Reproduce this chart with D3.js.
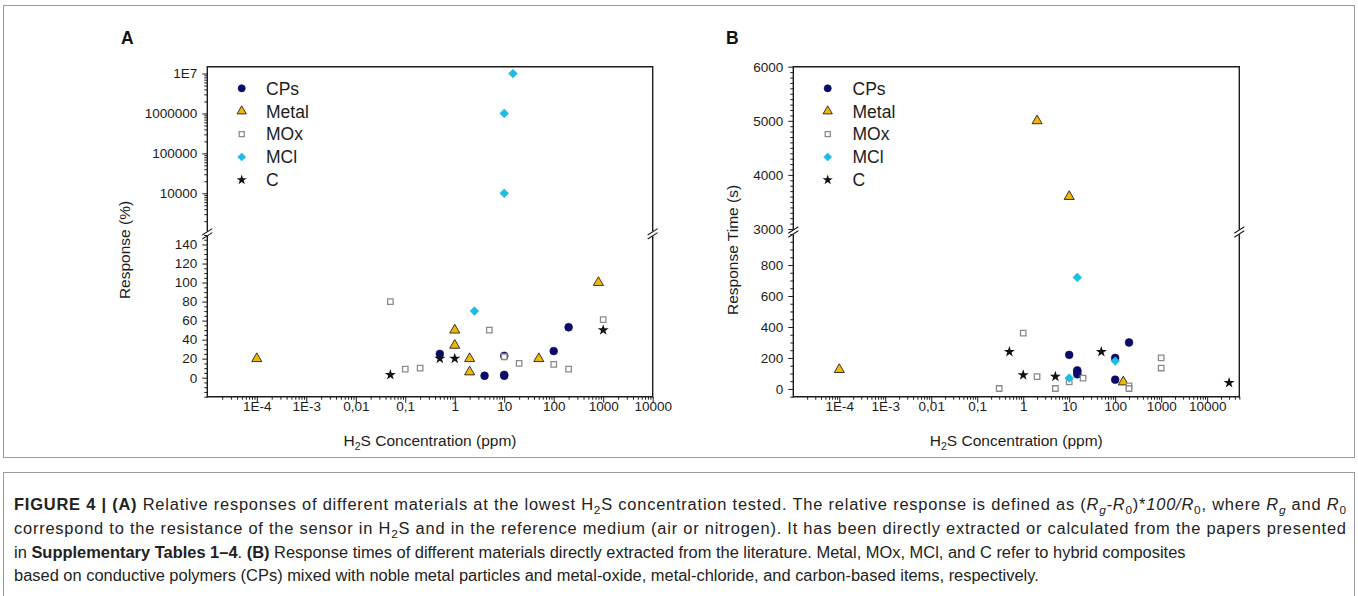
<!DOCTYPE html>
<html><head><meta charset="utf-8">
<script src="https://cdn.jsdelivr.net/npm/d3@7"></script>
<style>
body{margin:0;background:#fff;}
svg{display:block;font-family:"Liberation Sans",Arial,Helvetica,sans-serif;}
</style></head><body>
<svg id="chart" width="1358" height="596"></svg>
<script>
// ---------------- DATA ----------------
const seriesNames = ["CPs", "Metal", "MOx", "MCl", "C"];

// Panel A : relative response (%) vs H2S concentration (ppm)
const cpsA_x   = [0.5, 4, 10, 10, 10, 100, 200];
const cpsA_y   = [25, 2, 23, 2, 3, 28, 53];
const metalA_x = [1e-4, 1, 1, 2, 2, 50, 800];
const metalA_y = [20, 50, 34, 20, 6, 20, 100];
const moxA_x   = [0.05, 0.1, 0.2, 5, 10, 20, 100, 200, 1000];
const moxA_y   = [80, 9, 10, 50, 22, 15, 14, 9, 61];
const mclA_x   = [2.5, 10, 10, 15];
const mclA_y   = [70, 10000, 1000000, 10000000];
const cA_x     = [0.05, 0.5, 1, 1000];
const cA_y     = [3, 20, 20, 50];

// Panel B : response time (s) vs H2S concentration (ppm)
const cpsB_x   = [10, 15, 15, 15, 100, 100, 200];
const cpsB_y   = [220, 120, 110, 95, 200, 60, 300];
const metalB_x = [1e-4, 2, 10, 150];
const metalB_y = [125, 5000, 3600, 45];
const moxB_x   = [0.3, 1, 2, 5, 10, 20, 200, 200, 1000, 1000];
const moxB_y   = [3, 360, 80, 3, 45, 70, 20, 3, 200, 135];
const mclB_x   = [10, 15, 100];
const mclB_y   = [70, 720, 180];
const cB_x     = [0.5, 1, 5, 50, 30000];
const cB_y     = [240, 90, 80, 240, 40];

// Tick labels
const xTickValsA = [1e-4, 1e-3, 1e-2, 1e-1, 1, 10, 100, 1000, 10000];
const xTickLabsA = ["1E-4", "1E-3", "0,01", "0,1", "1", "10", "100", "1000", "10000"];
const xTickValsB = [1e-4, 1e-3, 1e-2, 1e-1, 1, 10, 100, 1000, 10000];
const xTickLabsB = ["1E-4", "1E-3", "0,01", "0,1", "1", "10", "100", "1000", "10000"];
const yLowTicksA = [0, 20, 40, 60, 80, 100, 120, 140];
const yUpTicksA  = [1e4, 1e5, 1e6, 1e7];
const yUpLabsA   = ["10000", "100000", "1000000", "1E7"];
const yLowTicksB = [0, 200, 400, 600, 800];
const yUpTicksB  = [3000, 4000, 5000, 6000];

// ---------------- STYLE ----------------
const svg = d3.select("#chart");
const ink = "#1c1c1c";
const styles = {
  CPs:   {type: d3.symbolCircle,   size: 48, fill: "#0b0b68", stroke: "#0b0b68", sw: 0.6, rot: 0},
  Metal: {type: d3.symbolTriangle, size: 44, fill: "#f2b705", stroke: "#222",    sw: 0.9, rot: 0},
  MOx:   {type: d3.symbolSquare,   size: 30, fill: "#fff",    stroke: "#8a8a8a", sw: 1.3, rot: 0},
  MCl:   {type: d3.symbolSquare,   size: 38, fill: "#1cbde5", stroke: "#1cbde5", sw: 0.6, rot: 45},
  C:     {type: d3.symbolStar,     size: 38, fill: "#111",    stroke: "none",    sw: 0,   rot: 0}
};

function marker(g, name, cx, cy, k) {
  const s = styles[name];
  g.append("path")
    .attr("d", d3.symbol().type(s.type).size(s.size * (k || 1))())
    .attr("transform", `translate(${cx},${cy}) rotate(${s.rot})`)
    .attr("fill", s.fill).attr("stroke", s.stroke).attr("stroke-width", s.sw);
}

function minorLog(lo, hi) {
  const out = [];
  for (let e = Math.floor(Math.log10(lo)); e <= Math.ceil(Math.log10(hi)); e++) {
    for (let k = 2; k <= 9; k++) {
      const v = k * Math.pow(10, e);
      if (v >= lo * 0.999 && v <= hi * 1.001) out.push(v);
    }
  }
  return out;
}
function rangeStep(a, b, s, excl) {
  const out = [];
  for (let v = a; v <= b + 1e-9; v += s) if (!excl.includes(v)) out.push(v);
  return out;
}

function drawPanel(p) {
  const g = svg.append("g");
  const {x, yLow, yUp, L, R, T, B, bY} = p;

  const styleAxis = sel => {
    sel.select(".domain").remove();
    sel.selectAll("line").attr("stroke", ink).attr("stroke-width", 1);
    sel.selectAll("text").attr("fill", ink).style("font-size", "13.5px")
       .style("font-family", '"Liberation Sans",Arial,sans-serif');
  };

  // bottom axis
  g.append("g").attr("transform", `translate(0,${B})`)
    .call(d3.axisBottom(x).tickValues(minorLog(x.domain()[0], x.domain()[1]).filter(v => !p.xTicks.includes(v))).tickFormat("").tickSize(3))
    .call(styleAxis);
  g.append("g").attr("transform", `translate(0,${B})`)
    .call(d3.axisBottom(x).tickValues(p.xTicks).tickFormat((d, i) => p.xLabels[i]).tickSize(6).tickPadding(-1))
    .call(styleAxis);

  // left axis lower
  g.append("g").attr("transform", `translate(${L},0)`)
    .call(d3.axisLeft(yLow).tickValues(p.yLowMinor).tickFormat("").tickSize(3)).call(styleAxis);
  g.append("g").attr("transform", `translate(${L},0)`)
    .call(d3.axisLeft(yLow).tickValues(p.yLowTicks).tickFormat(d => d).tickSize(5).tickPadding(5)).call(styleAxis);
  // left axis upper
  g.append("g").attr("transform", `translate(${L},0)`)
    .call(d3.axisLeft(yUp).tickValues(p.yUpMinor).tickFormat("").tickSize(3)).call(styleAxis);
  g.append("g").attr("transform", `translate(${L},0)`)
    .call(d3.axisLeft(yUp).tickValues(p.yUpTicks).tickFormat((d, i) => p.yUpLabels[i]).tickSize(5).tickPadding(5)).call(styleAxis);

  // frame with breaks
  const fr = g.append("g").attr("stroke", ink).attr("stroke-width", 1.4).attr("fill", "none");
  fr.append("line").attr("x1", L).attr("x2", R).attr("y1", B).attr("y2", B);
  fr.append("line").attr("x1", L).attr("x2", R).attr("y1", T).attr("y2", T);
  [L, R].forEach(xx => {
    fr.append("line").attr("x1", xx).attr("x2", xx).attr("y1", B + 0.7).attr("y2", bY + 2.2);
    fr.append("line").attr("x1", xx).attr("x2", xx).attr("y1", bY - 2.2).attr("y2", T - 0.7);
    fr.append("line").attr("x1", xx - 5).attr("y1", bY + 1.2).attr("x2", xx + 5).attr("y2", bY - 5.2).attr("stroke-width", 1.1);
    fr.append("line").attr("x1", xx - 5).attr("y1", bY + 5.2).attr("x2", xx + 5).attr("y2", bY - 1.2).attr("stroke-width", 1.1);
  });

  // data
  const pts = g.append("g");
  p.series.forEach(s => {
    s.xs.forEach((xv, i) => {
      const yv = s.ys[i];
      const cy = yv >= p.split ? yUp(yv) : yLow(yv);
      marker(pts, s.name, x(xv), cy);
    });
  });

  // legend
  const lg = g.append("g");
  seriesNames.forEach((n, i) => {
    const ly = p.legY0 + i * p.legDY;
    marker(lg, n, p.legX, ly, 0.85);
    lg.append("text").attr("x", p.legTX).attr("y", ly + 6.3).text(n)
      .attr("fill", ink).style("font-size", "17.5px");
  });

  // panel letter
  g.append("text").attr("x", p.letterX).attr("y", 44).text(p.letter)
    .style("font-weight", "bold").style("font-size", "17.5px").attr("fill", "#111");

  // x title
  const xt = g.append("text").attr("x", (L + R) / 2).attr("y", 446).attr("text-anchor", "middle")
    .attr("fill", ink).style("font-size", "15.5px");
  xt.append("tspan").text("H");
  xt.append("tspan").text("2").style("font-size", "10.5px").attr("dy", 4);
  xt.append("tspan").text("S Concentration (ppm)").attr("dy", -4);

  // y title
  g.append("text").attr("transform", `translate(${p.yTitleX},250) rotate(-90)`)
    .attr("text-anchor", "middle").attr("fill", ink).style("font-size", "15.5px").text(p.yTitle);
}

// ---------------- PANEL A ----------------
const LA = 207.3, RA = 652.7, T0 = 66.7, B0 = 396.7;
drawPanel({
  letter: "A", letterX: 121,
  x: d3.scaleLog().domain([1e-5, 1e4]).range([LA, RA]),
  yLow: d3.scaleLinear().domain([-20, 150]).range([B0, 235]),
  yUp: d3.scaleLog().domain([1000, 1.5e7]).range([233.2, 66.5]),
  L: LA, R: RA, T: T0, B: B0, bY: 233.8,
  xTicks: xTickValsA, xLabels: xTickLabsA,
  yLowTicks: yLowTicksA, yLowMinor: rangeStep(-20, 150, 5, yLowTicksA),
  yUpTicks: yUpTicksA, yUpLabels: yUpLabsA, yUpMinor: minorLog(1000, 1.5e7).filter(v => v > 1000),
  split: 1000,
  series: [
    {name: "CPs", xs: cpsA_x, ys: cpsA_y},
    {name: "Metal", xs: metalA_x, ys: metalA_y},
    {name: "MOx", xs: moxA_x, ys: moxA_y},
    {name: "MCl", xs: mclA_x, ys: mclA_y},
    {name: "C", xs: cA_x, ys: cA_y}
  ],
  legX: 241.7, legTX: 266, legY0: 88.3, legDY: 22.9,
  yTitle: "Response (%)", yTitleX: 130
});

// ---------------- PANEL B ----------------
const LB = 793.3, RB = 1239.3;
drawPanel({
  letter: "B", letterX: 726,
  x: d3.scaleLog().domain([1e-5, 5e4]).range([LB, RB]),
  yLow: d3.scaleLinear().domain([-50, 1000]).range([B0, 234]),
  yUp: d3.scaleLinear().domain([3000, 6000]).range([229, 66.7]),
  L: LB, R: RB, T: T0, B: B0, bY: 232,
  xTicks: xTickValsB, xLabels: xTickLabsB,
  yLowTicks: yLowTicksB, yLowMinor: rangeStep(-50, 1000, 50, yLowTicksB),
  yUpTicks: yUpTicksB, yUpLabels: yUpTicksB.map(String), yUpMinor: rangeStep(3000, 6000, 100, yUpTicksB),
  split: 2000,
  series: [
    {name: "CPs", xs: cpsB_x, ys: cpsB_y},
    {name: "Metal", xs: metalB_x, ys: metalB_y},
    {name: "MOx", xs: moxB_x, ys: moxB_y},
    {name: "MCl", xs: mclB_x, ys: mclB_y},
    {name: "C", xs: cB_x, ys: cB_y}
  ],
  legX: 827.7, legTX: 852.5, legY0: 88.3, legDY: 22.9,
  yTitle: "Response Time (s)", yTitleX: 738
});

// ---------------- FRAMES ----------------
svg.append("rect").attr("x", 3.5).attr("y", 5.5).attr("width", 1351).attr("height", 452)
  .attr("fill", "none").attr("stroke", "#9a9a9a").attr("stroke-width", 1);
svg.append("rect").attr("x", 3.5).attr("y", 472.5).attr("width", 1351).attr("height", 140)
  .attr("fill", "none").attr("stroke", "#9a9a9a").attr("stroke-width", 1);

// ---------------- CAPTION ----------------
const captionLines = [
  [["FIGURE 4 | (A)", "b"], [" Relative responses of different materials at the lowest H", ""], ["2", "sub"], ["S concentration tested. The relative response is defined as (", ""], ["R", "i"], ["g", "isub"], ["-", "i"], ["R", "i"], ["0", "sub"], [")*", ""], ["100/R", "i"], ["0", "sub"], [", where ", ""], ["R", "i"], ["g", "isub"], [" and ", ""], ["R", "i"], ["0", "sub"]],
  [["correspond to the resistance of the sensor in H", ""], ["2", "sub"], ["S and in the reference medium (air or nitrogen). It has been directly extracted or calculated from the papers presented", ""]],
  [["in ", ""], ["Supplementary Tables 1–4", "b"], [". ", ""], ["(B)", "b"], [" Response times of different materials directly extracted from the literature. Metal, MOx, MCl, and C refer to hybrid composites", ""]],
  [["based on conductive polymers (CPs) mixed with noble metal particles and metal-oxide, metal-chloride, and carbon-based items, respectively.", ""]]
];
const capBase = [510, 534, 557.5, 581];
const capX = 14;
let capFs = 15;
const capG = svg.append("g").attr("fill", "#222");
function writeLine(li, fs) {
  const t = capG.append("text").attr("x", capX).attr("y", capBase[li]).style("font-size", fs + "px");
  let shifted = false;
  captionLines[li].forEach(([txt, st]) => {
    const sp = t.append("tspan").text(txt);
    const isSub = st === "sub" || st === "isub";
    if (isSub && !shifted) { sp.attr("dy", 3.5); shifted = true; }
    else if (!isSub && shifted) { sp.attr("dy", -3.5); shifted = false; }
    if (isSub) sp.style("font-size", (fs * 0.72) + "px");
    if (st === "b") sp.style("font-weight", "bold");
    if (st === "i" || st === "isub") sp.style("font-style", "italic");
  });
  return t;
}
const probe = writeLine(3, capFs);
const w = probe.node().getComputedTextLength();
probe.remove();
capFs = capFs * 1026 / w;
captionLines.forEach((_, i) => {
  const t = writeLine(i, capFs);
  if (i < 2) t.attr("textLength", 1332).attr("lengthAdjust", "spacing");
});
</script>
</body></html>
